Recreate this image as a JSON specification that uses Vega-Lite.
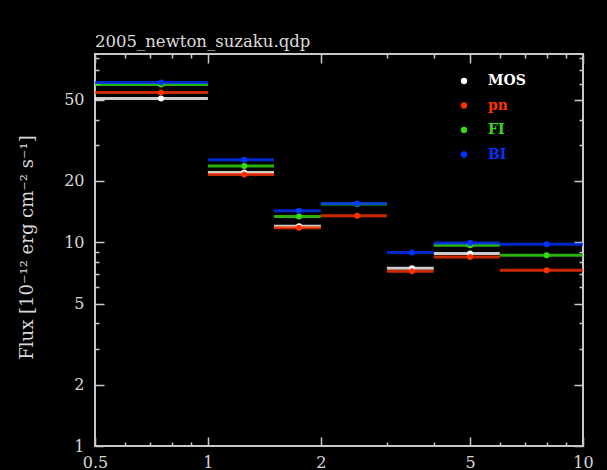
{
  "$schema": "https://vega.github.io/schema/vega-lite/v6.json",
  "background": "black",
  "autosize": "none",
  "padding": {"left": 95, "top": 54, "right": 24, "bottom": 24},
  "width": 488,
  "height": 392,
  "title": {
    "text": "2005_newton_suzaku.qdp",
    "anchor": "start",
    "frame": "group",
    "offset": 0,
    "font": "DejaVu Serif",
    "fontSize": 16.5,
    "fontWeight": "normal",
    "color": "#dcdcdc"
  },
  "config": {
    "view": {"stroke": "#c8c8c8", "strokeWidth": 2},
    "axis": {"domain": false, "grid": false}
  },
  "data": {
    "values": [
      {"det": "MOS", "lo": 0.5, "hi": 1.0, "e": 0.75, "flux": 50.8},
      {"det": "MOS", "lo": 1.0, "hi": 1.5, "e": 1.25, "flux": 22.0},
      {"det": "MOS", "lo": 1.5, "hi": 2.0, "e": 1.75, "flux": 12.0},
      {"det": "MOS", "lo": 3.0, "hi": 4.0, "e": 3.5, "flux": 7.46},
      {"det": "MOS", "lo": 4.0, "hi": 6.0, "e": 5.0, "flux": 8.8},
      {"det": "pn", "lo": 0.5, "hi": 1.0, "e": 0.75, "flux": 54.3},
      {"det": "pn", "lo": 1.0, "hi": 1.5, "e": 1.25, "flux": 21.5},
      {"det": "pn", "lo": 1.5, "hi": 2.0, "e": 1.75, "flux": 11.8},
      {"det": "pn", "lo": 2.0, "hi": 3.0, "e": 2.5, "flux": 13.5},
      {"det": "pn", "lo": 3.0, "hi": 4.0, "e": 3.5, "flux": 7.2},
      {"det": "pn", "lo": 4.0, "hi": 6.0, "e": 5.0, "flux": 8.47},
      {"det": "pn", "lo": 6.0, "hi": 10.0, "e": 8.0, "flux": 7.29},
      {"det": "FI", "lo": 0.5, "hi": 1.0, "e": 0.75, "flux": 59.5},
      {"det": "FI", "lo": 1.0, "hi": 1.5, "e": 1.25, "flux": 23.7},
      {"det": "FI", "lo": 1.5, "hi": 2.0, "e": 1.75, "flux": 13.4},
      {"det": "FI", "lo": 2.0, "hi": 3.0, "e": 2.5, "flux": 15.4},
      {"det": "FI", "lo": 4.0, "hi": 6.0, "e": 5.0, "flux": 9.67},
      {"det": "FI", "lo": 6.0, "hi": 10.0, "e": 8.0, "flux": 8.63},
      {"det": "BI", "lo": 0.5, "hi": 1.0, "e": 0.75, "flux": 60.9},
      {"det": "BI", "lo": 1.0, "hi": 1.5, "e": 1.25, "flux": 25.4},
      {"det": "BI", "lo": 1.5, "hi": 2.0, "e": 1.75, "flux": 14.3},
      {"det": "BI", "lo": 2.0, "hi": 3.0, "e": 2.5, "flux": 15.5},
      {"det": "BI", "lo": 3.0, "hi": 4.0, "e": 3.5, "flux": 8.9},
      {"det": "BI", "lo": 4.0, "hi": 6.0, "e": 5.0, "flux": 9.92},
      {"det": "BI", "lo": 6.0, "hi": 10.0, "e": 8.0, "flux": 9.78}
    ]
  },
  "resolve": {"axis": {"x": "independent", "y": "independent"}},
  "layer": [
    {
      "mark": {"type": "rule", "strokeWidth": 3, "opacity": 0.8},
      "encoding": {
        "x": {
          "field": "lo", "type": "quantitative",
          "scale": {"type": "log", "domain": [0.5, 10], "nice": false},
          "axis": {
            "orient": "bottom", "title": null,
            "values": [0.5, 0.6, 0.7, 0.8, 0.9, 1, 2, 3, 4, 5, 6, 7, 8, 9, 10],
            "format": "~g",
            "labelExpr": "indexof([0.5, 1, 2, 5, 10], datum.value) >= 0 ? datum.label : ''",
            "tickSize": {"condition": {"test": "indexof([0.5, 1, 2, 5, 10], datum.value) >= 0", "value": -9}, "value": -4},
            "tickColor": "#c8c8c8", "tickWidth": 1.5,
            "labelFont": "DejaVu Serif", "labelFontSize": 16, "labelColor": "#d8d8d8",
            "labelPadding": 17, "labelFlush": false, "labelOverlap": false
          }
        },
        "x2": {"field": "hi"},
        "y": {
          "field": "flux", "type": "quantitative",
          "scale": {"type": "log", "domain": [1, 84], "nice": false},
          "axis": {
            "orient": "left",
            "title": "Flux [10⁻¹² erg cm⁻² s⁻¹]",
            "titleFont": "DejaVu Serif", "titleFontSize": 18, "titleFontWeight": "normal",
            "titleColor": "#d8d8d8", "titleAngle": -90, "titleX": -68, "titleY": 193,
            "titleAlign": "center", "titleBaseline": "middle",
            "values": [1, 2, 3, 4, 5, 6, 7, 8, 9, 10, 20, 30, 40, 50, 60, 70, 80],
            "format": "~g",
            "labelExpr": "indexof([1, 2, 5, 10, 20, 50], datum.value) >= 0 ? datum.label : ''",
            "tickSize": {"condition": {"test": "indexof([1, 2, 5, 10, 20, 50], datum.value) >= 0", "value": -9}, "value": -4},
            "tickColor": "#c8c8c8", "tickWidth": 1.5,
            "labelFont": "DejaVu Serif", "labelFontSize": 16, "labelColor": "#d8d8d8",
            "labelPadding": 20, "labelFlush": false, "labelOverlap": false
          }
        },
        "color": {
          "field": "det", "type": "nominal",
          "scale": {"domain": ["MOS", "pn", "FI", "BI"], "range": ["#ffffff", "#ff3300", "#33dd11", "#0033ff"]},
          "legend": {
            "orient": "none", "legendX": 362, "legendY": 20,
            "title": null, "symbolType": "circle", "symbolSize": 40,
            "symbolStrokeWidth": 0, "symbolOpacity": 1,
            "labelFont": "DejaVu Serif", "labelFontSize": 14, "labelFontWeight": "bold", "labelOffset": 17,
            "rowPadding": 10.5,
            "encode": {
              "symbols": {"update": {"fill": {"scale": "color", "field": "value"}, "stroke": {"value": "transparent"}, "opacity": {"value": 1}}},
              "labels": {"update": {"fill": {"scale": "color", "field": "value"}}}
            }
          }
        }
      }
    },
    {
      "mark": {"type": "circle", "size": 36, "opacity": 1},
      "encoding": {
        "x": {
          "field": "e", "type": "quantitative",
          "axis": {
            "orient": "top", "title": null, "labels": false,
            "values": [0.5, 0.6, 0.7, 0.8, 0.9, 1, 2, 3, 4, 5, 6, 7, 8, 9, 10],
            "tickSize": {"condition": {"test": "indexof([0.5, 1, 2, 5, 10], datum.value) >= 0", "value": -9}, "value": -4},
            "tickColor": "#c8c8c8", "tickWidth": 1.5
          }
        },
        "y": {
          "field": "flux", "type": "quantitative",
          "axis": {
            "orient": "right", "title": null, "labels": false,
            "values": [1, 2, 3, 4, 5, 6, 7, 8, 9, 10, 20, 30, 40, 50, 60, 70, 80],
            "tickSize": {"condition": {"test": "indexof([1, 2, 5, 10, 20, 50], datum.value) >= 0", "value": -9}, "value": -4},
            "tickColor": "#c8c8c8", "tickWidth": 1.5
          }
        },
        "color": {"field": "det", "type": "nominal"}
      }
    }
  ]
}
